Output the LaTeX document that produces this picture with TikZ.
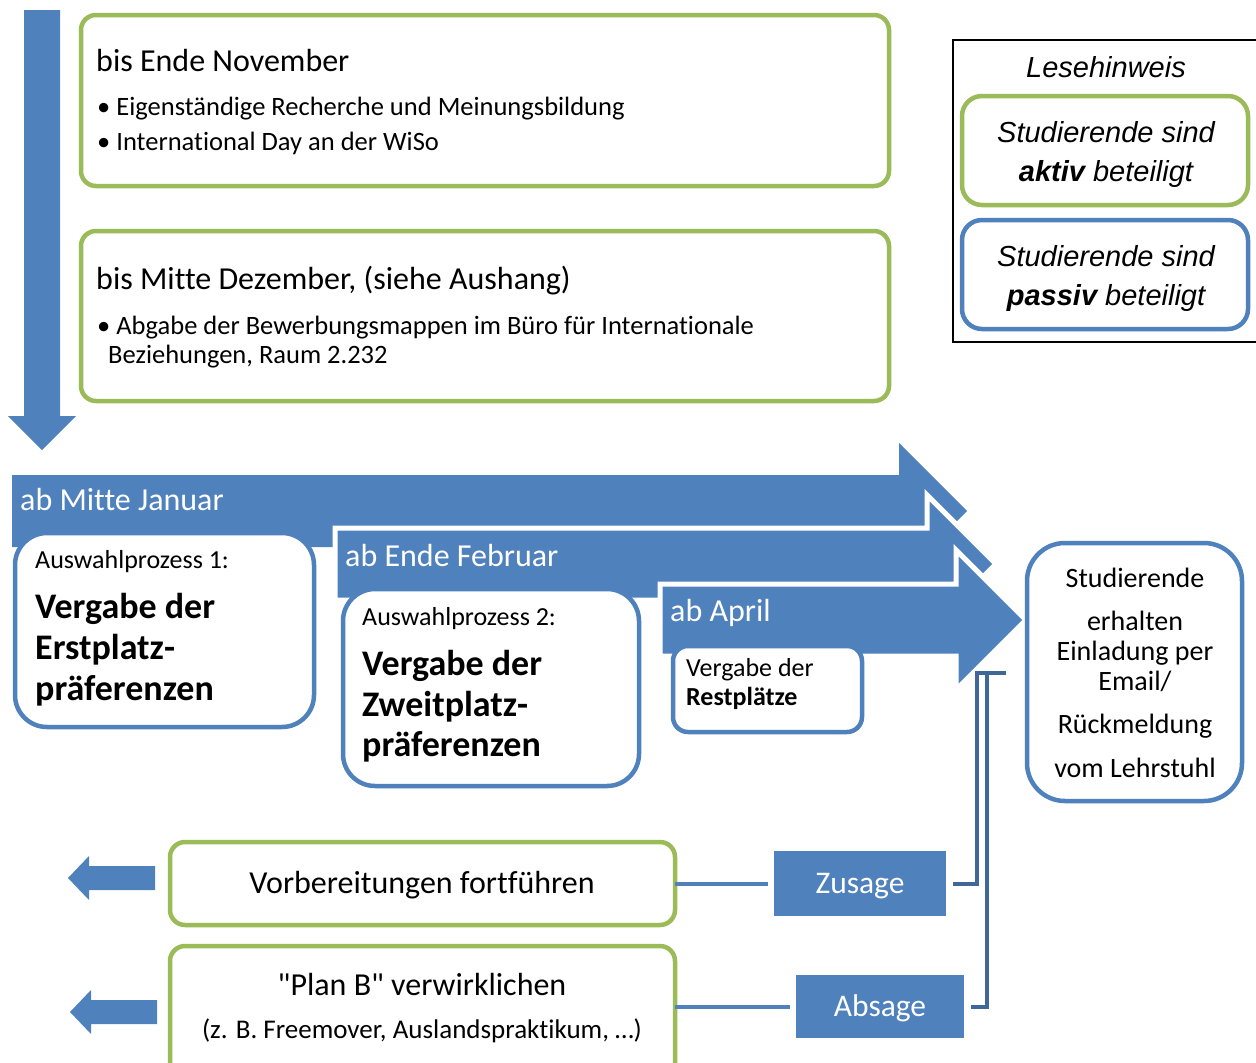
\documentclass[tikz,border=0pt]{standalone}
\usepackage{fontspec}
\setmainfont{Carlito}[Ligatures={TeXOff,NoCommon}]
\newfontfamily\arialf{Liberation Sans}[Ligatures={TeXOff,NoCommon}]
\usetikzlibrary{calc}
\definecolor{bl}{HTML}{4F81BD}
\definecolor{gr}{HTML}{9BBB59}
\definecolor{dbl}{HTML}{3F6798}
\newcommand\myfs[1]{\fontsize{#1}{#1}\selectfont}
\tikzset{
  gbox/.style={draw=gr, line width=4.5pt, rounded corners=15pt, fill=white, inner sep=0pt, outer sep=0pt, anchor=north west},
  bbox/.style={draw=bl, line width=4.5pt, fill=white, inner sep=0pt, outer sep=0pt, anchor=north west},
  fbox/.style={fill=bl, inner sep=0pt, outer sep=0pt, anchor=north west},
  txt/.style={inner sep=0pt, anchor=base west},
  ctxt/.style={inner sep=0pt, anchor=base},
  bigarrow/.style={fill=bl},
  overarrow/.style={fill=bl, draw=white, line width=5pt, miter limit=10},
  conn/.style={draw=bl, line width=4pt},
  conndark/.style={draw=dbl, line width=4pt},
}
\begin{document}
\begin{tikzpicture}[x=1pt,y=-1pt]
\useasboundingbox (0,0) rectangle (1256,1063);
\fill[white] (0,0) rectangle (1256,1063);
\clip (0,0) rectangle (1256,1063);

% vertical timeline arrow
\fill[bl] (24,10) -- (60,10) -- (60,416) -- (76,416) -- (42,450) -- (8,416) -- (24,416) -- cycle;

% top green boxes
\node[gbox, minimum width=808pt, minimum height=171pt] (boxA) at (81,15) {};
\node[txt, font=\myfs{32}] (tA1) at (96,71) {bis Ende November};
\node[txt, font=\myfs{26.5}] (tA2) at (97,115) {• Eigenständige Recherche und Meinungsbildung};
\node[txt, font=\myfs{26.5}] (tA3) at (97,150) {• International Day an der WiSo};

\node[gbox, minimum width=808pt, minimum height=170pt] (boxB) at (81,231) {};
\node[txt, font=\myfs{32}] (tB1) at (96,289) {bis Mitte Dezember, (siehe Aushang)};
\node[txt, font=\myfs{26.5}] (tB2) at (97,334) {• Abgabe der Bewerbungsmappen im Büro für Internationale};
\node[txt, font=\myfs{26.5}] (tB3) at (108,363) {Beziehungen, Raum 2.232};

% legend
\node[draw=black, line width=2pt, inner sep=0pt, outer sep=0pt, anchor=north west, minimum width=310pt, minimum height=302pt] (legend) at (953,40) {};
\node[ctxt, font=\arialf\itshape\myfs{29}] (tL1) at (1106,77) {Lesehinweis};
\node[gbox, rounded corners=20pt, minimum width=286pt, minimum height=109pt] (legA) at (962,96) {};
\node[ctxt, font=\arialf\itshape\myfs{29}] (tL2) at (1106,142) {Studierende sind};
\node[ctxt, font=\arialf\itshape\myfs{29}] (tL3) at (1106,181) {\textbf{aktiv} beteiligt};
\node[bbox, rounded corners=20pt, minimum width=286pt, minimum height=109pt] (legB) at (962,220) {};
\node[ctxt, font=\arialf\itshape\myfs{29}] (tL4) at (1106,266) {Studierende sind};
\node[ctxt, font=\arialf\itshape\myfs{29}] (tL5) at (1106,305) {\textbf{passiv} beteiligt};

% cascade arrows and selection boxes
\fill[bigarrow] (12,475) -- (899,475) -- (899,443) -- (967,511) -- (899,579) -- (899,547) -- (12,547) -- cycle;
\node[txt, font=\myfs{32}, text=white] (tJan) at (20,510) {ab Mitte Januar};
\node[bbox, rounded corners=32pt, minimum width=299pt, minimum height=194pt] (sel1) at (15,533) {};
\node[txt, font=\myfs{26}] (t11) at (35,568) {Auswahlprozess 1:};
\node[txt, font=\bfseries\myfs{36}] (t12) at (35,618) {Vergabe der};
\node[txt, font=\bfseries\myfs{36}] (t13) at (35,659) {Erstplatz-};
\node[txt, font=\bfseries\myfs{36}] (t14) at (35,700) {präferenzen};

\draw[overarrow] (335,528) -- (927,528) -- (927,495) -- (996,564) -- (927,633) -- (927,600) -- (335,600) -- cycle;
\node[txt, font=\myfs{32}, text=white] (tFeb) at (345,566) {ab Ende Februar};
\node[bbox, rounded corners=32pt, minimum width=296pt, minimum height=197pt] (sel2) at (343,589) {};
\node[txt, font=\myfs{26}] (t21) at (362,625) {Auswahlprozess 2:};
\node[txt, font=\bfseries\myfs{36}] (t22) at (362,675) {Vergabe der};
\node[txt, font=\bfseries\myfs{36}] (t23) at (362,716) {Zweitplatz-};
\node[txt, font=\bfseries\myfs{36}] (t24) at (362,756) {präferenzen};

\draw[overarrow] (660,584) -- (956,584) -- (956,550) -- (1026,620) -- (956,690) -- (956,656) -- (660,656) -- cycle;
\node[txt, font=\myfs{32}, text=white] (tApr) at (670,621) {ab April};
\node[bbox, rounded corners=15pt, minimum width=189pt, minimum height=86pt] (sel3) at (673,646) {};
\node[txt, font=\myfs{26}] (t31) at (686,676) {Vergabe der};
\node[txt, font=\bfseries\myfs{26}] (t32) at (686,705) {Restplätze};

% result box
\node[bbox, rounded corners=38pt, minimum width=215pt, minimum height=258pt] (res) at (1027,543) {};
\node[ctxt, font=\myfs{28}] (r1) at (1135,587) {Studierende};
\node[ctxt, font=\myfs{28}] (r2) at (1135,630) {erhalten};
\node[ctxt, font=\myfs{28}] (r3) at (1135,660) {Einladung per};
\node[ctxt, font=\myfs{28}] (r4) at (1135,690) {Email/};
\node[ctxt, font=\myfs{28}] (r5) at (1135,733) {Rückmeldung};
\node[ctxt, font=\myfs{28}] (r6) at (1135,777) {vom Lehrstuhl};

% bottom part
\fill[bl] (155,866) -- (89,866) -- (89,856) -- (68,878) -- (89,900) -- (89,890) -- (155,890) -- cycle;
\fill[bl] (157,1000) -- (91,1000) -- (91,990) -- (70,1012) -- (91,1034) -- (91,1024) -- (157,1024) -- cycle;

\node[gbox, minimum width=505pt, minimum height=83pt] (vorb) at (170,842) {};
\node[ctxt, font=\myfs{32}] (tv) at (422,893) {Vorbereitungen fortführen};
\node[gbox, minimum width=505pt, minimum height=134pt] (planb) at (170,946) {};
\node[ctxt, font=\myfs{32}] (tp1) at (422,995) {"Plan B" verwirklichen};
\node[ctxt, font=\myfs{27}] (tp2) at (422,1038) {(z. B. Freemover, Auslandspraktikum, …)};

\node[fbox, minimum width=172pt, minimum height=65pt] (zus) at (774,851) {};
\node[ctxt, font=\myfs{31.5}, text=white] (tz) at (860,893) {Zusage};
\node[fbox, minimum width=168pt, minimum height=63pt] (abs) at (796,975) {};
\node[ctxt, font=\myfs{31.5}, text=white] (tab) at (880,1016) {Absage};

\draw[conn] (vorb.east |- zus.west) -- ([xshift=-6pt]zus.west);
\draw[conn] (planb.east |- abs.west) -- ([xshift=-6pt]abs.west);

\coordinate (cend) at (1006,673);
\draw[conndark] ([xshift=7pt]zus.east) -- ++(24,0) |- (cend);
\draw[conndark] ([xshift=7pt]abs.east) -- ++(16,0) |- (cend);
\end{tikzpicture}
\end{document}
